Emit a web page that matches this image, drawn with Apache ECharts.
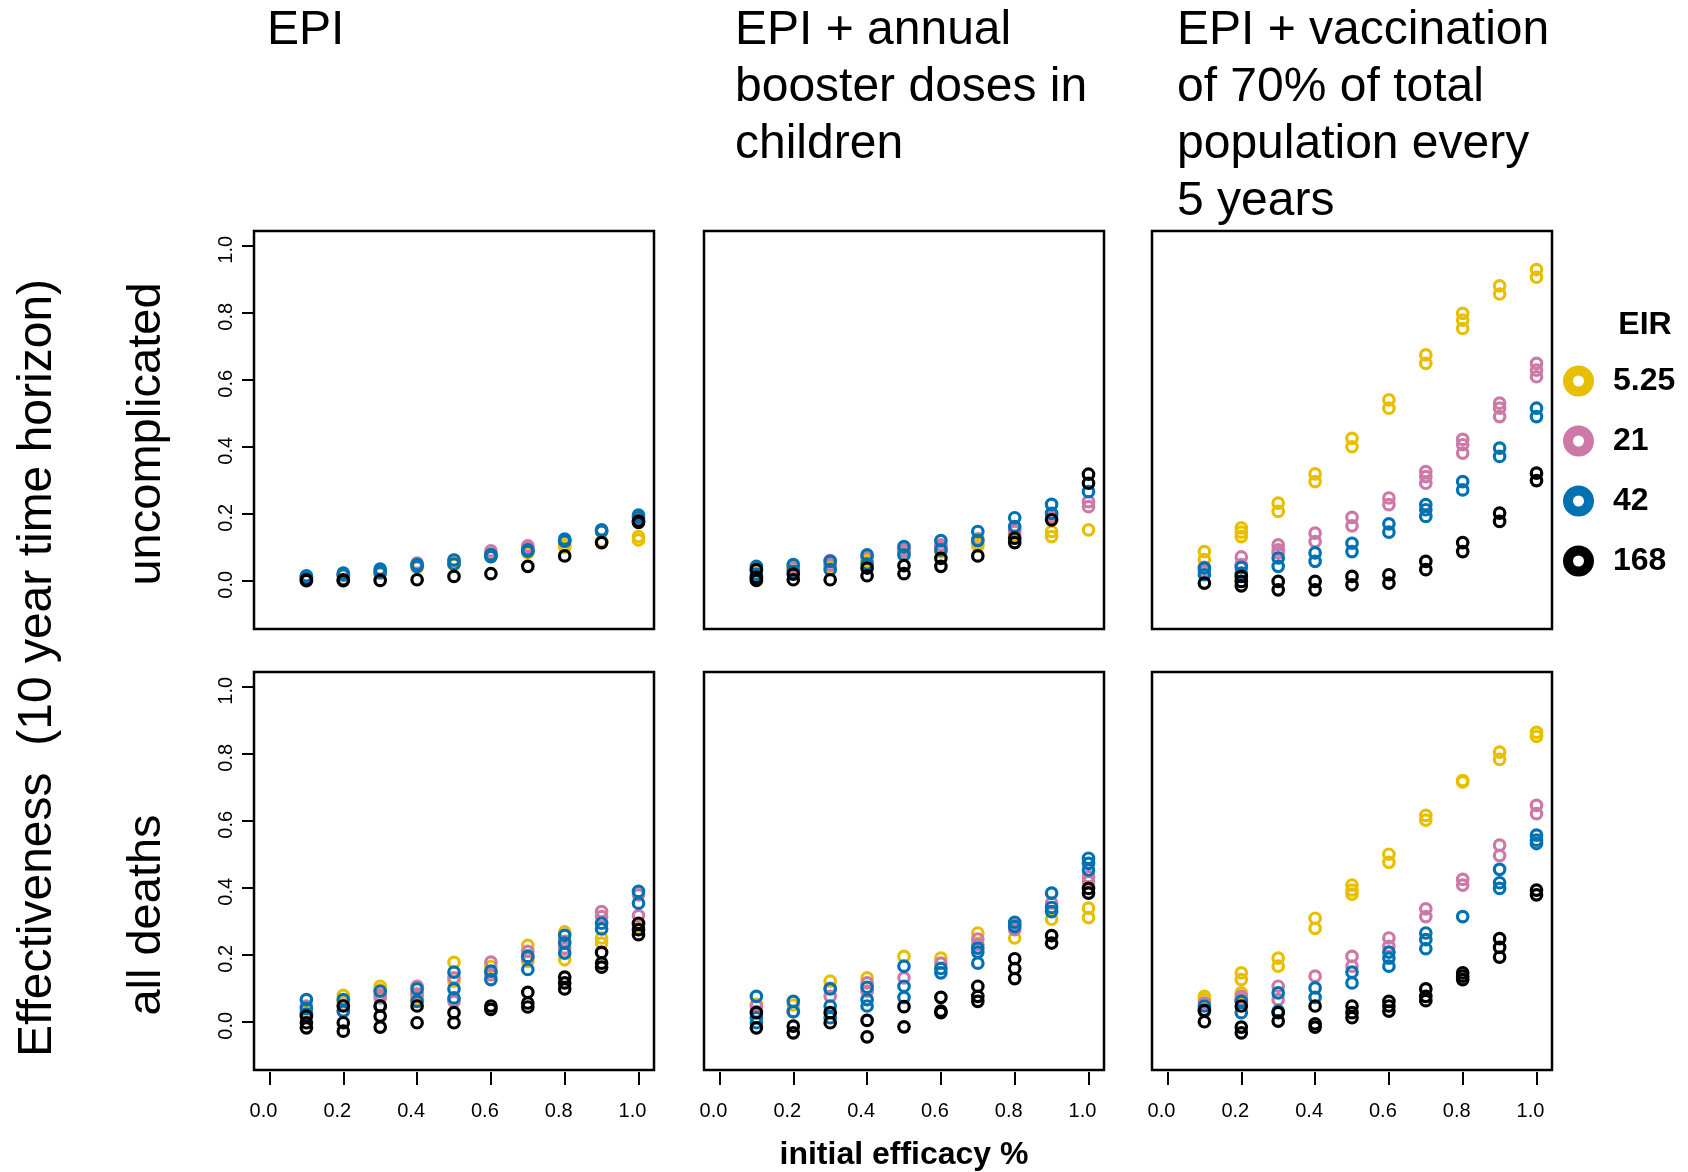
<!DOCTYPE html>
<html>
<head>
<meta charset="utf-8">
<title>Vaccine effectiveness by strategy and EIR</title>
<script src="https://cdn.jsdelivr.net/npm/echarts@6/dist/echarts.min.js"></script>
<style>
  html, body { margin: 0; padding: 0; background: #ffffff; }
  #chart { width: 1688px; height: 1172px; }
</style>
</head>
<body>
<div id="chart"></div>
<script>
// Initial vaccine efficacy values on the x axis
const efficacy = [0.1, 0.2, 0.3, 0.4, 0.5, 0.6, 0.7, 0.8, 0.9, 1.0];
// Transmission intensity levels (EIR) and their colours
const eirLevels = ['5.25', '21', '42', '168'];
const eirColors = ['#E8BF00', '#CC79A7', '#0072B2', '#000000'];
// Tick positions shared by both axes
const tickValues = [0, 0.2, 0.4, 0.6, 0.8, 1.0];

const strategyTitles = [
  'EPI',
  'EPI + annual\nbooster doses in\nchildren',
  'EPI + vaccination\nof 70% of total\npopulation every\n5 years'
];
const outcomeLabels = ['uncomplicated', 'all deaths'];
const yTitle = 'Effectiveness  (10 year time horizon)';
const xTitle = 'initial efficacy %';

// Effectiveness per panel: [EIR level][efficacy step] -> values of the individual runs
const epiUncomplicated = [
  [[0.010], [0.015], [0.022], [0.040], [0.048, 0.055], [0.072, 0.080], [0.084, 0.092], [0.100, 0.107], [0.115, 0.118], [0.122, 0.132]],
  [[0.012], [0.018], [0.030], [0.053], [0.062], [0.089], [0.104, 0.098], [0.118], [0.148], [0.185]],
  [[0.015, 0.010], [0.023, 0.018], [0.035, 0.025], [0.043, 0.048], [0.062, 0.050], [0.072, 0.078], [0.092, 0.088], [0.124, 0.118], [0.152, 0.148], [0.196, 0.190]],
  [[0.003, 0.000], [0.003, 0.000], [0.001], [0.003], [0.013], [0.021], [0.043], [0.074], [0.114], [0.174, 0.178]]
];
const boosterUncomplicated = [
  [[0.030], [0.038, 0.045], [0.040], [0.064, 0.055], [0.085], [0.087, 0.095], [0.104, 0.110], [0.127, 0.135], [0.147, 0.132], [0.152]],
  [[0.035], [0.040], [0.060, 0.048], [0.070], [0.089, 0.095], [0.107, 0.100], [0.125], [0.147, 0.155], [0.191, 0.200], [0.236, 0.221]],
  [[0.043, 0.020, 0.008], [0.048, 0.028], [0.058, 0.033], [0.077, 0.050], [0.102, 0.077], [0.120, 0.092], [0.147, 0.120], [0.188, 0.162], [0.228, 0.201], [0.266]],
  [[0.033, 0.010, 0.001], [0.020, 0.003], [0.003], [0.038, 0.015], [0.045, 0.021], [0.067, 0.043], [0.074], [0.127, 0.114], [0.182], [0.318, 0.291]]
];
const massUncomplicated = [
  [[0.087, 0.063], [0.158, 0.145, 0.132], [0.232, 0.207], [0.319, 0.296], [0.425, 0.400], [0.540, 0.515], [0.674, 0.649], [0.798, 0.778, 0.753], [0.880, 0.856], [0.929, 0.906]],
  [[0.040, 0.028], [0.071, 0.048], [0.107, 0.092, 0.083], [0.142, 0.117], [0.189, 0.164], [0.247, 0.227], [0.326, 0.311, 0.291], [0.422, 0.406, 0.381], [0.530, 0.515, 0.490], [0.649, 0.629, 0.609]],
  [[0.038, 0.018], [0.040, 0.023], [0.068, 0.043], [0.083, 0.058], [0.112, 0.087], [0.170, 0.145], [0.227, 0.212, 0.192], [0.296, 0.271], [0.396, 0.371], [0.515, 0.490]],
  [[-0.007], [0.013, -0.002, -0.015], [-0.002, -0.027], [-0.002, -0.027], [0.013, -0.012], [0.018, -0.007], [0.058, 0.033], [0.114, 0.087], [0.202, 0.177], [0.321, 0.299]]
];
const epiDeaths = [
  [[0.030], [0.079, 0.060], [0.106, 0.095], [0.085, 0.070], [0.177, 0.121], [0.165, 0.150], [0.228, 0.180], [0.268, 0.185], [0.250, 0.235], [0.284, 0.290]],
  [[0.047, 0.022], [0.050, 0.032], [0.080, 0.071], [0.106, 0.081], [0.131, 0.061], [0.178, 0.140], [0.210, 0.190], [0.240, 0.220], [0.329, 0.314], [0.379, 0.317]],
  [[0.066, 0.040, 0.022], [0.066, 0.032], [0.091, 0.047], [0.098, 0.061], [0.148, 0.098, 0.071], [0.151, 0.126], [0.195, 0.156], [0.258, 0.235, 0.205], [0.294, 0.277], [0.389, 0.354]],
  [[0.017, -0.003, -0.018], [0.047, -0.003, -0.028], [0.047, 0.017, -0.016], [0.047, -0.003], [0.027, -0.003], [0.047, 0.037], [0.088, 0.056, 0.044], [0.133, 0.116, 0.098], [0.207, 0.175, 0.163], [0.294, 0.275, 0.260]]
];
const boosterDeaths = [
  [[0.052], [0.050], [0.121], [0.131], [0.195], [0.190], [0.265], [0.250], [0.306], [0.339, 0.311]],
  [[0.047, 0.030], [0.030], [0.100, 0.076], [0.116, 0.091], [0.131], [0.175], [0.247, 0.230], [0.290, 0.275], [0.354], [0.433, 0.418]],
  [[0.076, 0.012, -0.003], [0.061, 0.030], [0.098, 0.047, 0.012], [0.103, 0.066, 0.047], [0.166, 0.106, 0.073], [0.159, 0.146], [0.220, 0.208, 0.175], [0.297, 0.284], [0.384, 0.341, 0.329], [0.488, 0.473, 0.453]],
  [[0.027, -0.018], [-0.013, -0.033], [0.027, -0.003], [0.004, -0.045], [0.045, -0.015], [0.073, 0.032, 0.027], [0.106, 0.076, 0.061], [0.188, 0.159, 0.129], [0.257, 0.235], [0.398, 0.384]]
];
const massDeaths = [
  [[0.076, 0.066], [0.146, 0.126, 0.086], [0.190, 0.166], [0.309, 0.279], [0.408, 0.393, 0.381], [0.500, 0.476], [0.616, 0.602], [0.720, 0.716], [0.805, 0.783], [0.864, 0.852]],
  [[0.056], [0.076, 0.066], [0.106, 0.066], [0.136], [0.195, 0.166], [0.250, 0.225], [0.337, 0.314], [0.425, 0.408], [0.527, 0.496], [0.646, 0.621]],
  [[0.047, 0.032], [0.061, 0.027], [0.086, 0.032], [0.101, 0.073], [0.148, 0.116], [0.208, 0.190, 0.166], [0.265, 0.245, 0.218], [0.314], [0.455, 0.415, 0.398], [0.557, 0.542, 0.532]],
  [[0.034, 0.000], [0.047, -0.016, -0.033], [0.027, 0.002], [0.047, -0.006, -0.016], [0.047, 0.027, 0.012], [0.061, 0.047, 0.032], [0.098, 0.076, 0.063], [0.146, 0.136, 0.126], [0.248, 0.222, 0.193], [0.393, 0.379]]
];

// Panels in reading order: top row = uncomplicated cases, bottom row = all deaths
const panels = [
  epiUncomplicated, boosterUncomplicated, massUncomplicated,
  epiDeaths, boosterDeaths, massDeaths
];

const FONT = '"Liberation Sans", Arial, Helvetica, sans-serif';
const colLeft = [254, 704, 1152];
const rowTop = [231, 672];
const panelW = 400;
const panelH = 398;

const grids = [];
const xAxes = [];
const yAxes = [];
const series = [];
const fmt = v => v.toFixed(1);
const tickLine = { color: '#000', width: 2 };

panels.forEach((panel, p) => {
  const r = Math.floor(p / 3);
  const c = p % 3;
  grids.push({
    left: colLeft[c], top: rowTop[r], width: panelW, height: panelH,
    show: true, borderColor: '#000', borderWidth: 2.5, backgroundColor: 'transparent',
    outerBoundsMode: 'none'
  });
  xAxes.push({
    gridIndex: p, type: 'value', min: -0.042, max: 1.042, offset: 2, position: 'bottom',
    axisLine: { show: false, onZero: false }, splitLine: { show: false },
    axisTick: { show: r === 1, customValues: tickValues, length: 13, lineStyle: tickLine },
    axisLabel: {
      show: r === 1, customValues: tickValues, formatter: fmt,
      fontSize: 20, color: '#000', fontFamily: FONT, margin: 29, padding: [0, 12, 0, 0]
    },
    name: p === 4 ? xTitle : '', nameLocation: 'middle', nameGap: 67,
    nameTextStyle: { fontSize: 32, fontWeight: 'bold', color: '#000', fontFamily: FONT }
  });
  yAxes.push({
    gridIndex: p, type: 'value', min: -0.144, max: 1.044, position: 'left',
    axisLine: { show: false, onZero: false }, splitLine: { show: false },
    axisTick: { show: c === 0, customValues: tickValues, length: 12, lineStyle: tickLine },
    axisLabel: {
      show: c === 0, customValues: tickValues, formatter: fmt, rotate: 90,
      fontSize: 20, color: '#000', fontFamily: FONT, margin: 18, padding: [0, 8, 0, 0]
    },
    name: c === 0 ? outcomeLabels[r] : '', nameLocation: 'middle', nameGap: 83,
    nameTextStyle: {
      fontSize: 47, color: '#000', fontFamily: FONT,
      padding: r === 0 ? [0, 8, 0, 0] : [0, 88, 0, 0]
    }
  });
  panel.forEach((runs, e) => {
    const data = [];
    runs.forEach((vals, k) => vals.forEach(v => data.push([efficacy[k], v])));
    series.push({
      type: 'scatter', name: eirLevels[e], xAxisIndex: p, yAxisIndex: p,
      symbol: 'circle', symbolSize: 10.5, silent: true,
      itemStyle: { color: 'transparent', borderColor: eirColors[e], borderWidth: 3.2, opacity: 1 },
      emphasis: { disabled: true },
      data
    });
  });
});

const titleTexts = strategyTitles.map((t, i) => ({
  type: 'text', left: [267, 735, 1177][i], top: 2,
  style: { text: t, fontSize: 48, lineHeight: 57, fill: '#000', fontFamily: FONT }
}));

const option = {
  animation: false,
  color: eirColors,
  textStyle: { fontFamily: FONT },
  grid: grids,
  xAxis: xAxes,
  yAxis: yAxes,
  series,
  legend: {
    data: eirLevels, orient: 'vertical', left: 1558, top: 360,
    itemWidth: 21, itemHeight: 21, itemGap: 28,
    icon: 'circle', selectedMode: false,
    itemStyle: { color: 'transparent', borderWidth: 10 },
    textStyle: { fontSize: 32, fontWeight: 'bold', color: '#000', fontFamily: FONT, padding: [0, 0, 0, 19] }
  },
  graphic: [
    ...titleTexts,
    {
      type: 'text', x: 38, y: 668, rotation: Math.PI / 2,
      style: { text: yTitle, fontSize: 48, fill: '#000', fontFamily: FONT, align: 'center', verticalAlign: 'middle' }
    },
    {
      type: 'text', x: 1645, y: 325,
      style: { text: 'EIR', fontSize: 32, fontWeight: 'bold', fill: '#000', fontFamily: FONT, align: 'center', verticalAlign: 'middle' }
    }
  ]
};

const chart = echarts.init(document.getElementById('chart'), null, { renderer: 'canvas' });
chart.setOption(option);
</script>
</body>
</html>
